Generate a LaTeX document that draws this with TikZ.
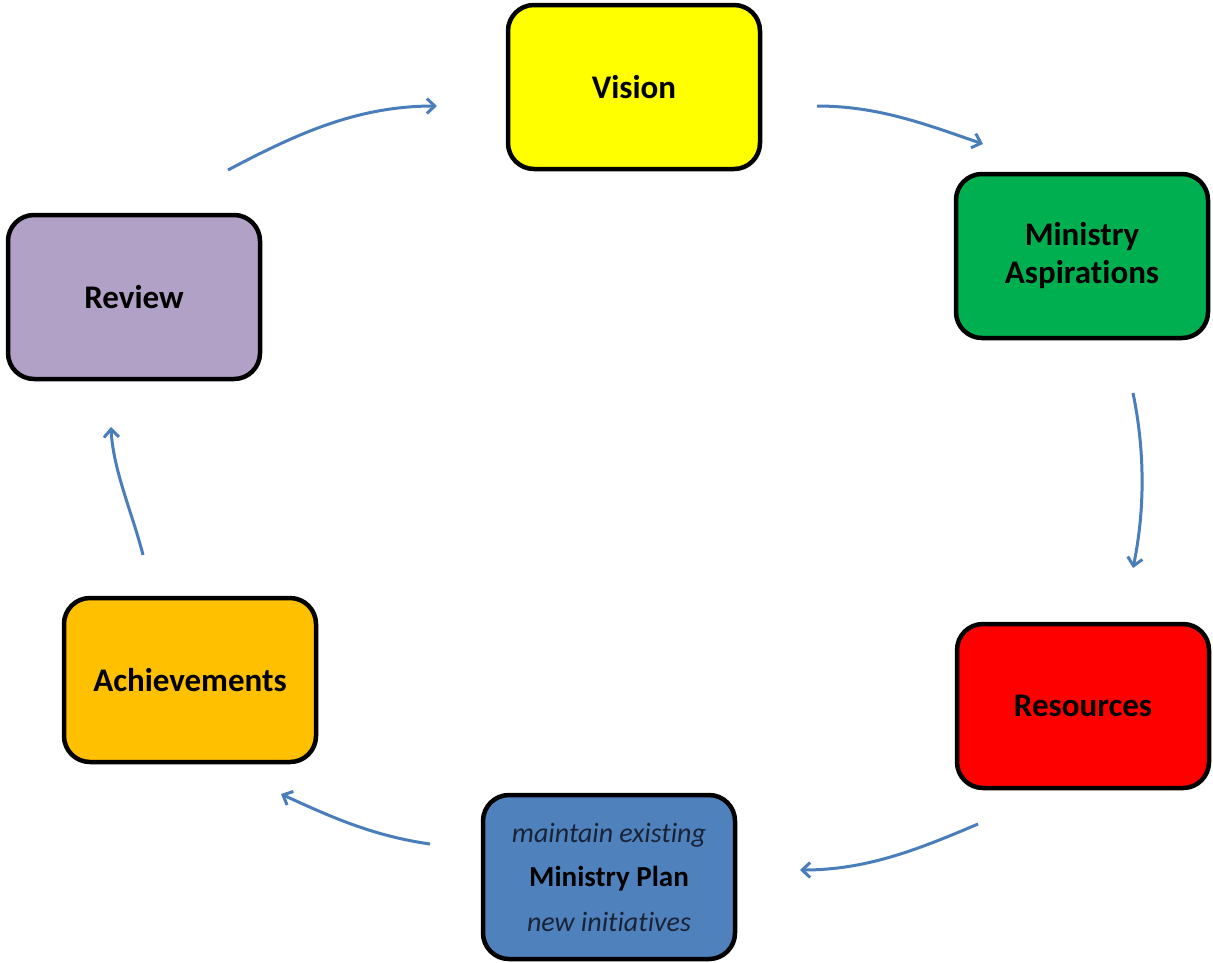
\documentclass[tikz,border=0pt]{standalone}
\usepackage{fontspec}
\setmainfont{Carlito}[Ligatures=NoCommon]
\usetikzlibrary{arrows.meta}

\definecolor{cycleblue}{RGB}{74,126,187}
\definecolor{visionfill}{RGB}{255,255,0}
\definecolor{aspirefill}{RGB}{0,176,80}
\definecolor{resourcefill}{RGB}{255,0,0}
\definecolor{planfill}{RGB}{79,129,189}
\definecolor{achievefill}{RGB}{255,192,0}
\definecolor{reviewfill}{RGB}{178,161,199}
\definecolor{plannote}{RGB}{25,35,55}

\begin{document}
\begin{tikzpicture}[x=1pt,y=-1pt,
	stagebox/.style={draw=black,line width=4.5pt,rounded corners=26pt,minimum width=252pt,minimum height=164pt,align=center,font=\fontsize{33}{38}\selectfont\bfseries},
	cyclearrow/.style={cycleblue,line width=3pt,-{Straight Barb[length=8pt,width=15pt]}}]
	\useasboundingbox (0,0) rectangle (1213,962);

	% the six stages
	\node[stagebox,fill=visionfill] (V) at (634,87) {Vision};
	\node[stagebox,fill=aspirefill] (A) at (1082,256) {Ministry\\Aspirations};
	\node[stagebox,fill=resourcefill] (R) at (1083,706) {Resources};
	\node[stagebox,fill=planfill,font=\fontsize{28}{44.5}\selectfont] (P) at (609,877)
		{\textcolor{plannote}{\itshape maintain existing}\\\textbf{\fontsize{29}{44.5}\selectfont Ministry Plan}\\\textcolor{plannote}{\itshape new initiatives}};
	\node[stagebox,fill=achievefill] (C) at (190,680) {Achievements};
	\node[stagebox,fill=reviewfill] (W) at (134,297) {Review};

	% free ends of the arrows
	\coordinate (W1) at (228,170);
	\coordinate (V0) at (437,106);
	\coordinate (V1) at (817,106);
	\coordinate (A0) at (983,144);
	\coordinate (A1) at (1133,393);
	\coordinate (R0) at (1133,568);
	\coordinate (R1) at (978,824);
	\coordinate (P0) at (800,870);
	\coordinate (P1) at (430,844);
	\coordinate (C0) at (281,794);
	\coordinate (C1) at (143,555);
	\coordinate (W0) at (111,427);

	\draw[cyclearrow] (W1) .. controls (298,133) and (358,106) .. (V0);
	\draw[cyclearrow] (V1) .. controls (878,106) and (925,124) .. (A0);
	\draw[cyclearrow] (A1) .. controls (1145,451) and (1145,510) .. (R0);
	\draw[cyclearrow] (R1) .. controls (917,850) and (866,870) .. (P0);
	\draw[cyclearrow] (P1) .. controls (374,836) and (333,818) .. (C0);
	\draw[cyclearrow] (C1) .. controls (133,515) and (113,470) .. (W0);
\end{tikzpicture}
\end{document}
